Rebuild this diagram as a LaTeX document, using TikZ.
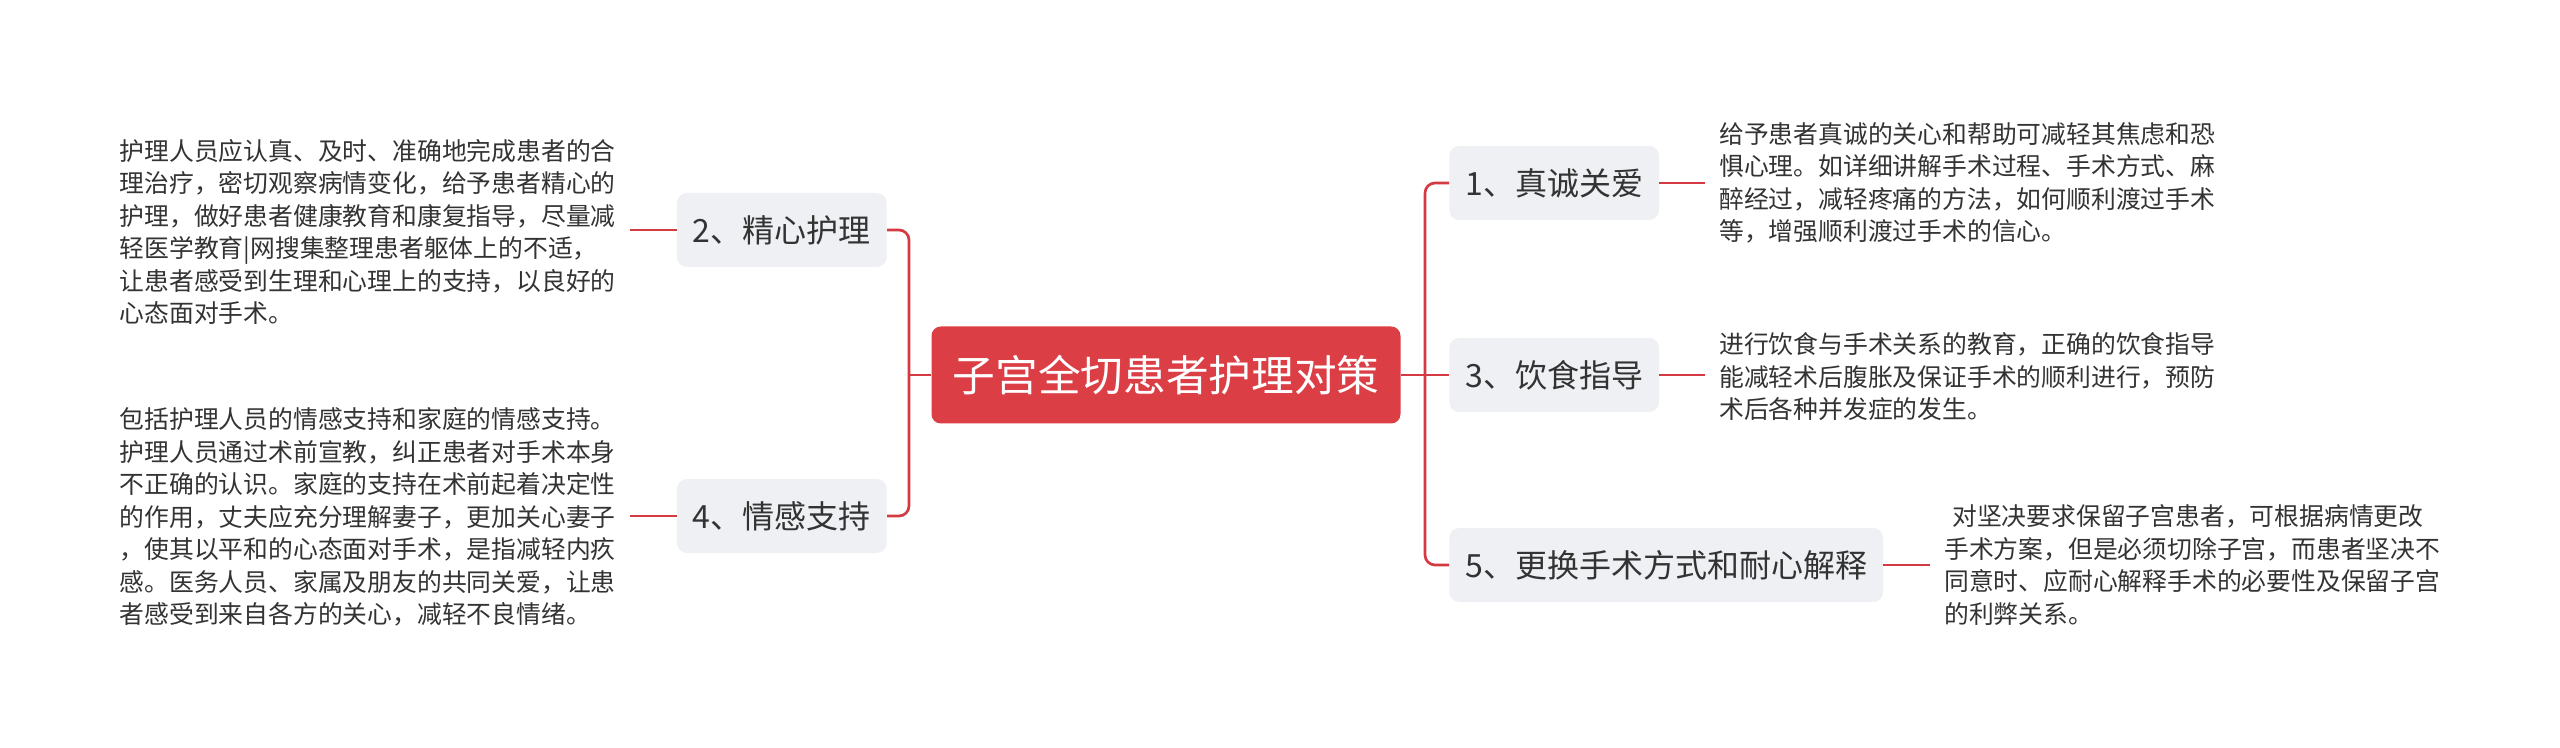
\documentclass[tikz,border=0pt]{standalone}
\usepackage{fontspec}
\newfontfamily\cjk{Noto Sans CJK SC}
\definecolor{mainred}{HTML}{DC3E46}
\definecolor{linered}{HTML}{D43A42}
\definecolor{boxgray}{HTML}{EEF0F3}
\definecolor{txt}{HTML}{333333}
\begin{document}
\begin{tikzpicture}[x=0.75pt,y=-0.75pt,
  conn/.style={draw=linered,line width=2pt},
  rootbox/.style={fill=mainred,rounded corners=7pt,text=white,font=\cjk\fontsize{32}{38}\selectfont,minimum width=351.75pt,minimum height=72.75pt,inner sep=0pt},
  topic/.style={fill=boxgray,rounded corners=7.5pt,text=txt,font=\cjk\fontsize{24}{28}\selectfont,minimum height=55.5pt,inner xsep=12pt,inner ysep=0pt},
  leaf/.style={text=txt,font=\cjk\fontsize{18.6}{24.4}\selectfont,align=left,inner xsep=10.5pt,inner ysep=0pt}
]
\fill[white] (0,0) rectangle (2560,748);
\useasboundingbox (0,0) rectangle (2560,748);

\node[rootbox] (root) at (1166,375) {子宫全切患者护理对策};

\node[topic,anchor=east] (b2) at (887,230) {2、精心护理};
\node[topic,anchor=east] (b4) at (887,516) {4、情感支持};
\node[topic,anchor=west] (b1) at (1449,183) {1、真诚关爱};
\node[topic,anchor=west] (b3) at (1449,375) {3、饮食指导};
\node[topic,anchor=west] (b5) at (1449,565) {5、更换手术方式和耐心解释};

\node[leaf,anchor=east] (t2) at (630,232) {护理人员应认真、及时、准确地完成患者的合\\理治疗，密切观察病情变化，给予患者精心的\\护理，做好患者健康教育和康复指导，尽量减\\轻医学教育|网搜集整理患者躯体上的不适，\\让患者感受到生理和心理上的支持，以良好的\\心态面对手术。};
\node[leaf,anchor=east] (t4) at (630,517) {包括护理人员的情感支持和家庭的情感支持。\\护理人员通过术前宣教，纠正患者对手术本身\\不正确的认识。家庭的支持在术前起着决定性\\的作用，丈夫应充分理解妻子，更加关心妻子\\，使其以平和的心态面对手术，是指减轻内疚\\感。医务人员、家属及朋友的共同关爱，让患\\者感受到来自各方的关心，减轻不良情绪。};
\node[leaf,anchor=west] (t1) at (1705,183) {给予患者真诚的关心和帮助可减轻其焦虑和恐\\惧心理。如详细讲解手术过程、手术方式、麻\\醉经过，减轻疼痛的方法，如何顺利渡过手术\\等，增强顺利渡过手术的信心。};
\node[leaf,anchor=west] (t3) at (1705,377) {进行饮食与手术关系的教育，正确的饮食指导\\能减轻术后腹胀及保证手术的顺利进行，预防\\术后各种并发症的发生。};
\node[leaf,anchor=west] (t5) at (1930,565) {\hspace*{6pt}对坚决要求保留子宫患者，可根据病情更改\\手术方案，但是必须切除子宫，而患者坚决不\\同意时、应耐心解释手术的必要性及保留子宫\\的利弊关系。};

\coordinate (jl) at (909,375);
\coordinate (jr) at (1425,375);
\draw[conn] (root.west) -- (jl);
\draw[conn,rounded corners=7.5pt] (jl) |- (b2.east);
\draw[conn,rounded corners=7.5pt] (jl) |- (b4.east);
\draw[conn] (root.east) -- (b3.west);
\draw[conn,rounded corners=7.5pt] (jr) |- (b1.west);
\draw[conn,rounded corners=7.5pt] (jr) |- (b5.west);

\draw[conn] (b2.west) -- (b2.west -| t2.east);
\draw[conn] (b4.west) -- (b4.west -| t4.east);
\draw[conn] (b1.east) -- (b1.east -| t1.west);
\draw[conn] (b3.east) -- (b3.east -| t3.west);
\draw[conn] (b5.east) -- (b5.east -| t5.west);
\end{tikzpicture}
\end{document}
